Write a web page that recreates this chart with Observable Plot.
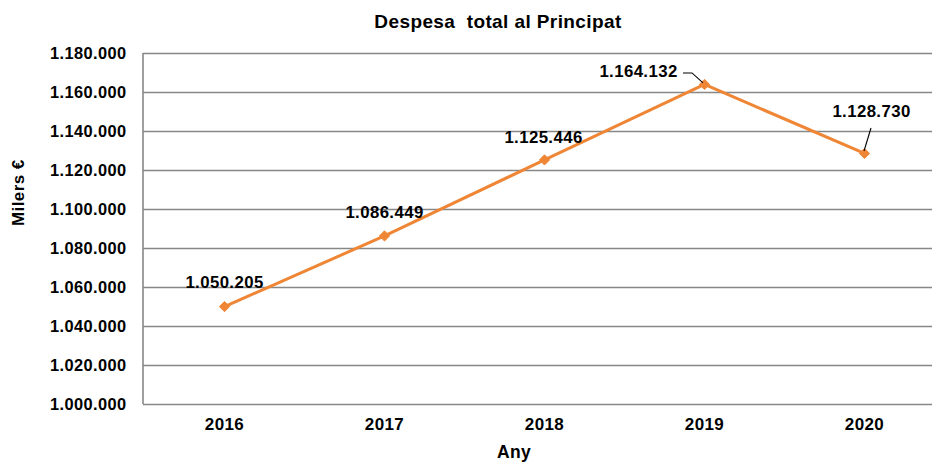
<!DOCTYPE html>
<html>
<head>
<meta charset="utf-8">
<script src="https://cdn.jsdelivr.net/npm/d3@7"></script>
<script src="https://cdn.jsdelivr.net/npm/@observablehq/plot@0.6"></script>
<style>
html, body { margin: 0; padding: 0; background: #fff; }
svg text { white-space: pre; }
</style>
</head>
<body>
<div id="chart"></div>
<script>
// ---- data ----
const years = ["2016", "2017", "2018", "2019", "2020"];
const values = [1050205, 1086449, 1125446, 1164132, 1128730];
const yTicks = [1000000, 1020000, 1040000, 1060000, 1080000, 1100000, 1120000, 1140000, 1160000, 1180000];
const title = "Despesa  total al Principat";
const yLabel = "Milers €";
const xLabel = "Any";

// ---- styling ----
const data = years.map((year, i) => ({year, value: values[i]}));
const fmt = d3.formatLocale({decimal: ",", thousands: ".", grouping: [3], currency: ["", "€"]}).format(",d");
const orange = "#EF8636";
const gridColor = "#878787";
const W = 932, H = 463, mL = 143, mR = 0, mT = 53, mB = 59;

// pixel offsets of the value labels relative to their point
const labelOffsets = {"2016": [0, -19], "2017": [0, -18], "2018": [-1, -17], "2019": [-66, -7], "2020": [7, -36]};
// leader lines (pixel offsets relative to the point)
const leaderPaths = {"2019": [[-21, -11], [-12, -11], [-1, -1]], "2020": [[7, -25], [0, -2]]};

const bold = {fontWeight: "bold", fill: "#000"};

const labelMarks = data.map(d => Plot.text([d], {
  x: "year", y: "value", text: e => fmt(e.value),
  dx: labelOffsets[d.year][0], dy: labelOffsets[d.year][1],
  lineAnchor: "bottom", fontSize: 16.8, ...bold
}));

const chart = Plot.plot({
  width: W, height: H,
  marginLeft: mL, marginRight: mR, marginTop: mT, marginBottom: mB,
  style: {fontFamily: "'Liberation Sans', Arial, sans-serif", letterSpacing: "0.4px", color: "#000", background: "#fff", overflow: "visible"},
  x: {type: "point", domain: years, range: [222, 865], padding: 0},
  y: {domain: [yTicks[0], yTicks[yTicks.length - 1]]},
  marks: [
    Plot.ruleY(yTicks, {stroke: gridColor, strokeWidth: 1.6}),
    Plot.axisY({ticks: yTicks, tickFormat: fmt, tickSize: 0, tickPadding: 17, fontSize: 16.4, label: null, ...bold}),
    Plot.axisX({tickSize: 0, tickPadding: 13.5, fontSize: 17, label: null, ...bold}),
    Plot.line(data, {x: "year", y: "value", stroke: orange, strokeWidth: 3}),
    Plot.dot(data, {x: "year", y: "value", symbol: "diamond2", r: 4.6, fill: orange, stroke: orange, strokeWidth: 1}),
    ...labelMarks,
    Plot.text([title], {frameAnchor: "top", dx: -40, dy: -32, lineAnchor: "middle", fontSize: 19, ...bold}),
    Plot.text([yLabel], {frameAnchor: "left", dx: -125, dy: -3, rotate: -90, lineAnchor: "middle", fontSize: 17, ...bold}),
    Plot.text([xLabel], {frameAnchor: "bottom", dx: -24, dy: 47.6, lineAnchor: "middle", fontSize: 17.5, ...bold})
  ]
});

// axis line and leader lines, positioned with the plot's own scales
const sx = chart.scale("x"), sy = chart.scale("y");
const fx = sx.apply ? (v => sx.apply(v)) : d3.scalePoint(sx.domain, sx.range).padding(0);
const fy = sy.apply ? (v => sy.apply(v)) : d3.scaleLinear(sy.domain, sy.range);
const svg = d3.select(chart);
svg.append("line")
  .attr("x1", mL).attr("x2", mL)
  .attr("y1", fy(yTicks[0])).attr("y2", fy(yTicks[yTicks.length - 1]))
  .attr("stroke", gridColor).attr("stroke-width", 1.6);
for (const d of data) {
  const pts = leaderPaths[d.year];
  if (!pts) continue;
  const px = fx(d.year), py = fy(d.value);
  svg.append("path")
    .attr("d", d3.line()(pts.map(([a, b]) => [px + a, py + b])))
    .attr("fill", "none").attr("stroke", "#000").attr("stroke-width", 1.1);
}
document.getElementById("chart").appendChild(chart);
</script>
</body>
</html>
